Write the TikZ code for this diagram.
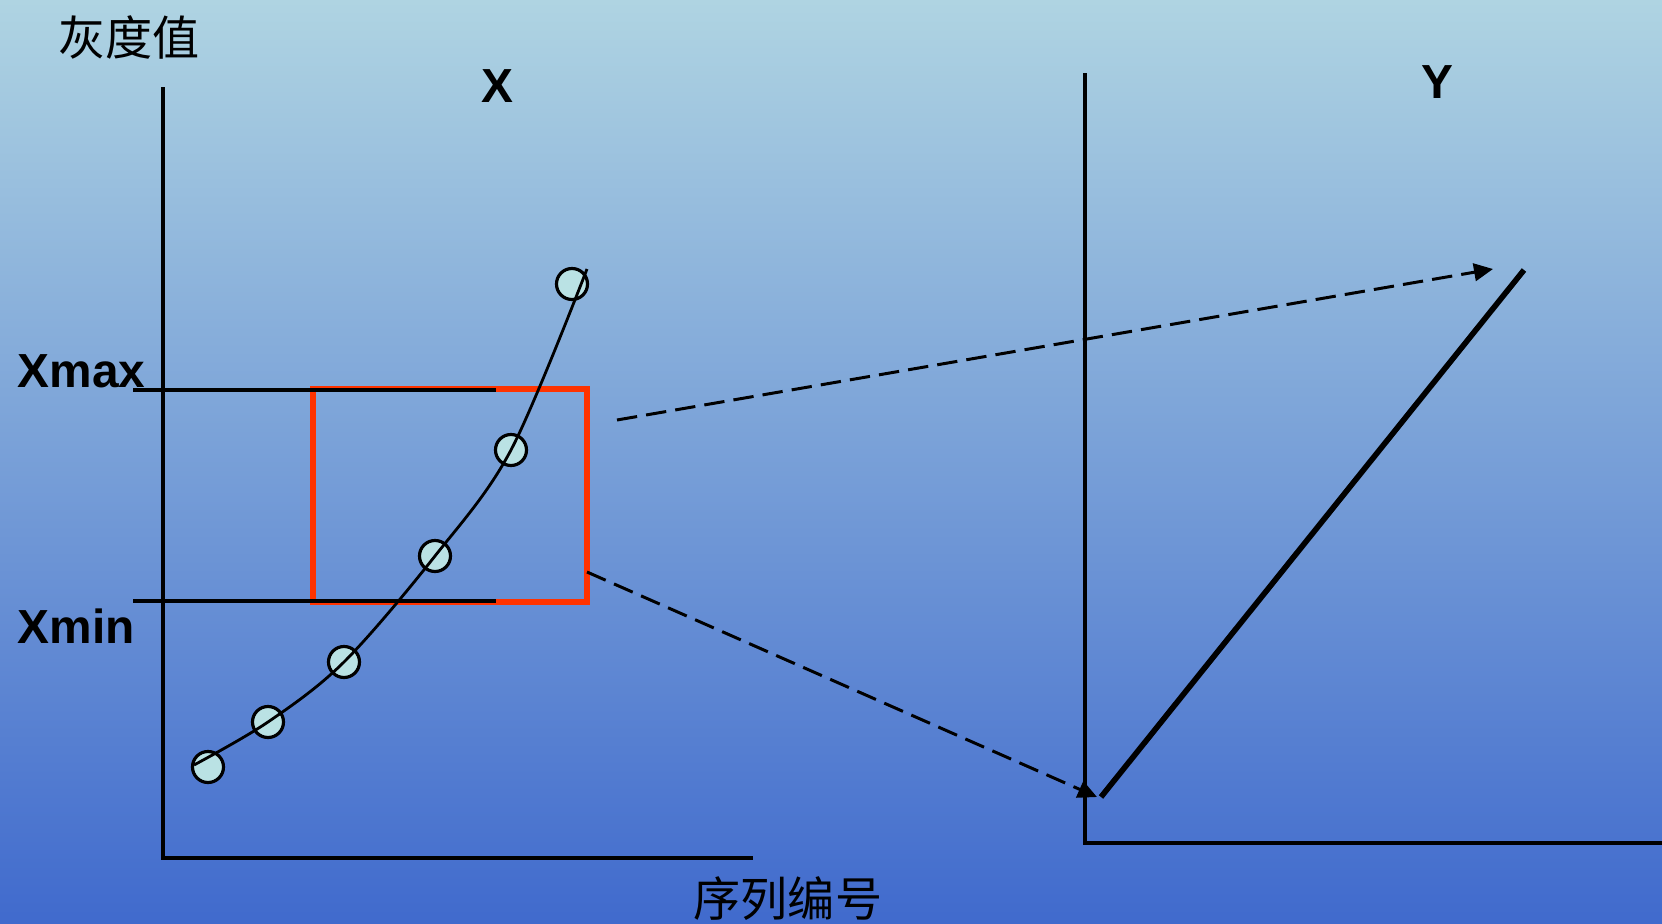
\documentclass[tikz,border=0pt]{standalone}
\usepackage{fontspec}
\setmainfont{Liberation Sans}
\newfontfamily\cjk{Noto Sans CJK SC}
\usetikzlibrary{arrows.meta}
\definecolor{bgtop}{RGB}{175,212,226}
\definecolor{bgmid}{RGB}{126,164,214}
\definecolor{bgbot}{RGB}{64,106,205}
\definecolor{ptfill}{RGB}{186,226,228}
\definecolor{boxred}{RGB}{255,51,0}
\tikzset{
  axisline/.style={line width=1pt, black},
  lbl/.style={font=\fontsize{13.6}{16}\selectfont\bfseries, inner sep=0pt},
  cjklbl/.style={font=\fontsize{13.4}{16}\selectfont\cjk, inner sep=0pt},
  pt/.style={circle, draw=black, fill=ptfill, line width=0.9pt, minimum size=0.31cm, inner sep=0pt},
  curveline/.style={line width=0.8pt, black},
  redbox/.style={draw=boxred, line width=1.9pt},
  levelline/.style={line width=0.95pt, black},
  dasharrow/.style={line width=0.85pt, dash pattern=on 5.8pt off 2.6pt, -{Triangle[length=5.4pt,width=5pt]}},
  mapline/.style={line width=1.6pt, black},
}
\begin{document}
\begin{tikzpicture}[x=0.01cm,y=-0.01cm]
\shade[top color=bgtop, middle color=bgmid, bottom color=bgbot] (0,0) rectangle (1662,924);
\useasboundingbox (0,0) rectangle (1662,924);

% labels
\node[cjklbl] (gray) at (129,37) {灰度值};
\node[cjklbl] (seq) at (788,899) {序列编号};
\node[lbl, anchor=base] (xl) at (497,103) {X};
\node[lbl, anchor=base] (yl) at (1437,99) {Y};
\node[lbl, anchor=base west] (xmax) at (17,387) {Xmax};
\node[lbl, anchor=base west] (xmin) at (17,643) {Xmin};

% left axes
\coordinate (ltop) at (163,87);
\coordinate (lo) at (163,858);
\coordinate (lend) at (753,858);
\draw[axisline] (ltop) -- (lo) -- (lend);

% right axes
\coordinate (rtop) at (1085,73);
\coordinate (ro) at (1085,843);
\coordinate (rend) at (1670,843);
\draw[axisline] (rtop) -- (ro) -- (rend);

% red window
\coordinate (rb1) at (313,389);
\coordinate (rb2) at (587,602);
\draw[redbox] (rb1) rectangle (rb2);

% level lines
\coordinate (xmaxa) at (133,390);
\coordinate (xmaxb) at (496,390);
\coordinate (xmina) at (133,601);
\coordinate (xminb) at (496,601);
\draw[levelline] (xmaxa) -- (xmaxb);
\draw[levelline] (xmina) -- (xminb);

% data points
\node[pt] (c1) at (208,767) {};
\node[pt] (c2) at (268,722) {};
\node[pt] (c3) at (344,662) {};
\node[pt] (c4) at (435,556) {};
\node[pt] (c5) at (511,450) {};
\node[pt] (c6) at (572,284) {};

% curve
\coordinate (cs) at (194,765);
\coordinate (ce) at (587,269);
\draw[curveline] plot[smooth, tension=0.55] coordinates {(cs) (c2.center) (c3.center) (c4.center) (c5.center) (ce)};

% mapping arrows
\coordinate (d1s) at (617,420);
\coordinate (d1e) at (1493,269);
\coordinate (d2s) at (587,572);
\coordinate (d2e) at (1097,797);
\draw[dasharrow] (d1s) -- (d1e);
\draw[dasharrow] (d2s) -- (d2e);

% mapping line
\coordinate (t1) at (1101,797);
\coordinate (t2) at (1524,270);
\draw[mapline] (t1) -- (t2);
\end{tikzpicture}
\end{document}
